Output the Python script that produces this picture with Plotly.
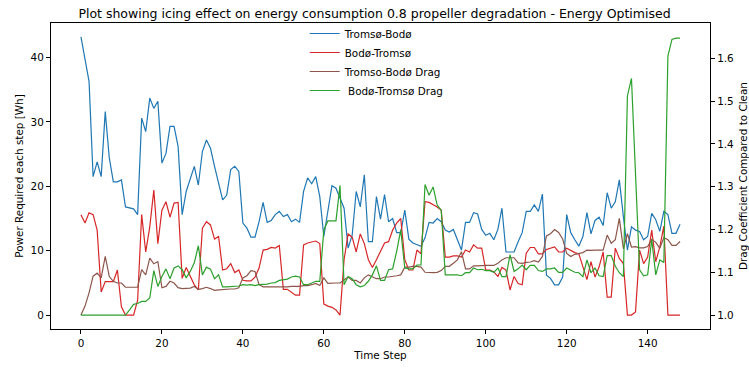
import plotly.graph_objects as go

steps = list(range(149))

tromso_bodo = [
    43.2, 39.8, 36.3, 21.5, 23.8, 21.5, 31.6, 24.4, 20.7, 20.7,
    21.0, 16.8, 16.6, 16.5, 15.6, 30.6, 28.5, 33.7, 32.1, 33.2,
    23.6, 25.1, 29.3, 29.3, 26.2, 15.6, 19.2, 21.3, 23.1, 20.2,
    25.4, 27.2, 25.9, 23.1, 20.5, 17.9, 18.6, 22.6, 23.1, 22.3,
    14.3, 13.5, 12.1, 12.1, 14.5, 17.5, 14.4, 14.7, 15.6, 16.1,
    15.3, 15.6, 14.5, 14.9, 14.4, 19.2, 21.3, 20.4, 21.5, 18.4,
    12.2, 16.1, 20.1, 19.7, 18.1, 16.6, 10.4, 12.4, 19.2, 16.8,
    21.8, 11.4, 11.4, 18.4, 14.9, 18.7, 14.5, 15.0, 12.8, 12.8,
    16.3, 11.8, 11.2, 10.9, 10.7, 12.0, 14.4, 14.3, 15.0, 14.5,
    13.2, 12.9, 13.3, 11.7, 10.1, 14.4, 14.4, 15.9, 15.7, 13.3,
    12.4, 12.7, 11.7, 13.3, 16.6, 9.8, 9.8, 9.8, 11.4, 12.8,
    16.1, 16.1, 17.1, 16.1, 18.8, 6.2, 5.7, 4.7, 4.7, 5.9,
    15.6, 12.8, 11.7, 10.7, 12.2, 15.9, 12.6, 14.7, 15.2, 13.9,
    19.0, 16.6, 17.6, 21.0, 15.3, 10.1, 13.7, 13.2, 13.0, 11.7,
    12.2, 15.8, 14.8, 13.0, 16.1, 15.6, 12.7, 12.7, 14.1,
]

bodo_tromso = [
    15.6, 14.3, 15.9, 15.6, 13.2, 3.6, 5.2, 5.2, 5.2, 7.0,
    1.3, 0.0, 0.0, 0.0, 2.3, 15.6, 9.8, 13.7, 19.4, 11.1,
    16.3, 17.6, 15.2, 17.4, 17.5, 5.7, 7.4, 5.9, 4.7, 3.9,
    13.5, 14.5, 14.0, 11.8, 12.2, 7.0, 7.2, 8.0, 6.6, 7.0,
    5.4, 5.3, 5.3, 5.9, 7.3, 10.1, 10.2, 10.5, 10.4, 10.8,
    4.0, 4.0, 3.5, 3.1, 3.1, 10.9, 11.2, 11.4, 11.5, 11.1,
    1.7, 1.4, 1.2, 0.8, 0.0, 8.6, 12.6, 12.1, 9.8, 12.6,
    11.1, 8.6, 7.4, 8.6, 10.0, 11.2, 11.4, 13.2, 14.3, 15.0,
    8.6, 7.0, 7.0, 10.1, 9.5, 17.6, 17.5, 17.2, 16.8, 16.3,
    9.0, 9.0, 9.2, 9.2, 9.0, 10.1, 9.8, 10.9, 10.4, 10.4,
    7.0, 7.0, 6.7, 6.0, 7.4, 7.0, 3.9, 6.0, 4.9, 4.7,
    9.6, 10.5, 10.5, 9.5, 9.5, 10.2, 10.4, 10.6, 9.8, 9.8,
    10.4, 10.0, 9.7, 9.5, 7.4, 5.5, 8.3, 5.9, 7.5, 9.8,
    2.8, 2.8, 10.4, 8.8, 8.0, 0.0, 0.0, 0.5, 10.1, 8.0,
    9.0, 13.2, 8.3, 10.6, 13.8, 0.0, 0.0, 0.0, 0.0,
]

tromso_bodo_drag = [
    1.000, 1.021, 1.052, 1.091, 1.098, 1.087, 1.137, 1.090, 1.079, 1.075,
    1.075, 1.065, 1.065, 1.065, 1.065, 1.106, 1.094, 1.133, 1.120, 1.125,
    1.064, 1.067, 1.079, 1.075, 1.064, 1.062, 1.062, 1.063, 1.067, 1.060,
    1.062, 1.065, 1.062, 1.058, 1.059, 1.060, 1.060, 1.061, 1.061, 1.064,
    1.087, 1.092, 1.104, 1.102, 1.071, 1.066, 1.066, 1.066, 1.065, 1.065,
    1.066, 1.066, 1.067, 1.067, 1.067, 1.069, 1.069, 1.071, 1.074, 1.069,
    1.087, 1.074, 1.075, 1.075, 1.075, 1.081, 1.089, 1.081, 1.081, 1.075,
    1.087, 1.094, 1.090, 1.085, 1.085, 1.089, 1.089, 1.090, 1.092, 1.094,
    1.112, 1.112, 1.114, 1.114, 1.112, 1.100, 1.099, 1.099, 1.100, 1.104,
    1.114, 1.114, 1.121, 1.129, 1.148, 1.108, 1.108, 1.115, 1.115, 1.116,
    1.116, 1.116, 1.116, 1.121, 1.129, 1.134, 1.134, 1.134, 1.122, 1.121,
    1.123, 1.124, 1.127, 1.124, 1.137, 1.185, 1.190, 1.200, 1.193, 1.178,
    1.144, 1.137, 1.142, 1.144, 1.146, 1.152, 1.151, 1.152, 1.152, 1.152,
    1.187, 1.168, 1.176, 1.226, 1.155, 1.190, 1.159, 1.160, 1.157, 1.157,
    1.160, 1.177, 1.170, 1.156, 1.181, 1.176, 1.163, 1.163, 1.172,
]

bodo_tromso_drag = [
    1.000, 1.000, 1.000, 1.000, 1.000, 1.000, 1.000, 1.000, 1.000, 1.000,
    1.000, 1.000, 1.012, 1.025, 1.027, 1.032, 1.032, 1.040, 1.104, 1.067,
    1.090, 1.108, 1.085, 1.110, 1.115, 1.106, 1.087, 1.102, 1.122, 1.162,
    1.094, 1.112, 1.107, 1.085, 1.094, 1.066, 1.066, 1.067, 1.067, 1.068,
    1.071, 1.070, 1.071, 1.069, 1.071, 1.071, 1.0725, 1.075, 1.076, 1.081,
    1.083, 1.084, 1.089, 1.091, 1.089, 1.071, 1.071, 1.075, 1.079, 1.079,
    1.199, 1.220, 1.220, 1.220, 1.303, 1.071, 1.090, 1.085, 1.071, 1.066,
    1.069, 1.079, 1.094, 1.115, 1.081, 1.081, 1.106, 1.108, 1.149, 1.199,
    1.110, 1.108, 1.108, 1.117, 1.117, 1.305, 1.280, 1.2995, 1.257, 1.245,
    1.094, 1.094, 1.094, 1.094, 1.092, 1.099, 1.099, 1.110, 1.106, 1.107,
    1.104, 1.104, 1.100, 1.110, 1.090, 1.090, 1.141, 1.102, 1.108, 1.117,
    1.106, 1.116, 1.116, 1.104, 1.102, 1.108, 1.108, 1.110, 1.100, 1.100,
    1.110, 1.104, 1.100, 1.099, 1.090, 1.129, 1.099, 1.110, 1.092, 1.090,
    1.139, 1.139, 1.114, 1.099, 1.090, 1.512, 1.553, 1.330, 1.106, 1.092,
    1.094, 1.1765, 1.094, 1.129, 1.123, 1.605, 1.644, 1.647, 1.647,
]

names = ["Tromsø-Bodø", "Bodø-Tromsø", "Tromso-Bodø Drag", " Bodø-Tromsø Drag"]
colors = ["#1f77b4", "#d62728", "#8c564b", "#2ca02c"]

FONT = "DejaVu Sans"
fig = go.Figure()
series = [(tromso_bodo, "y"), (bodo_tromso, "y"), (tromso_bodo_drag, "y2"), (bodo_tromso_drag, "y2")]
for (vals, ax), name, col in zip(series, names, colors):
    fig.add_trace(go.Scatter(x=steps, y=vals, name=name, mode="lines", yaxis=ax,
                             line=dict(color=col, width=1.2)))

axis_common = dict(showline=True, linecolor="black", linewidth=1.2, ticks="outside",
                   ticklen=4, tickcolor="black", tickwidth=1, showgrid=False, zeroline=False,
                   automargin=False,
                   tickfont=dict(family=FONT, size=10.4, color="black"))

fig.update_layout(
    width=749, height=368,
    margin=dict(l=51, r=39, t=23, b=39, autoexpand=False),
    paper_bgcolor="white", plot_bgcolor="white",
    font=dict(family=FONT, size=10.4, color="black"),
    title=dict(text="Plot showing icing effect on energy consumption 0.8 propeller degradation - Energy Optimised",
               x=0.5, xanchor="center", y=0.975, yanchor="top",
               font=dict(family=FONT, size=12.5, color="black")),
    xaxis=dict(range=[-7.4, 155.4], tickvals=[0, 20, 40, 60, 80, 100, 120, 140], mirror=True,
               title=dict(text="Time Step", standoff=4, font=dict(family=FONT, size=10.4)),
               **axis_common),
    yaxis=dict(range=[-2.16, 45.36], tickvals=[0, 10, 20, 30, 40],
               title=dict(text="Power Required each step [Wh]", standoff=4, font=dict(family=FONT, size=10.4)),
               **axis_common),
    yaxis2=dict(range=[0.9675, 1.6825], tickvals=[1.0, 1.1, 1.2, 1.3, 1.4, 1.5, 1.6],
                ticktext=["1.0", "1.1", "1.2", "1.3", "1.4", "1.5", "1.6"],
                overlaying="y", side="right",
                title=dict(text="Drag Coefficient Compared to Clean", standoff=7, font=dict(family=FONT, size=10.4)),
                **axis_common),
    legend=dict(x=0.385, y=1.013, xanchor="left", yanchor="top", bgcolor="rgba(0,0,0,0)",
                font=dict(family=FONT, size=10.4), itemwidth=30),
    showlegend=True,
)

fig.write_html("out.html")
